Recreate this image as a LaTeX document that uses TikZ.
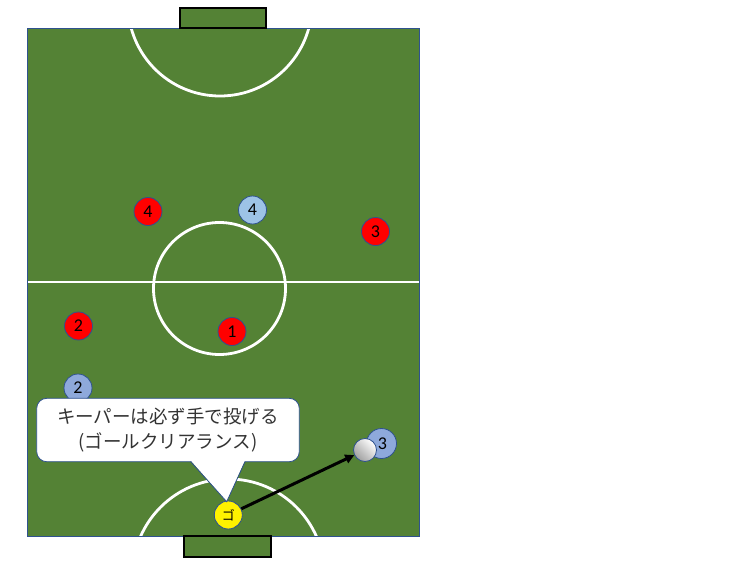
\documentclass[tikz,border=0pt]{standalone}
\usepackage{fontspec}
\setmainfont{Carlito}
\newfontfamily\jpfont{Noto Sans CJK JP}
\usetikzlibrary{arrows.meta}
\definecolor{pitch}{HTML}{548235}
\definecolor{edgeblue}{HTML}{2F528F}
\definecolor{bluea}{HTML}{8EA9DB}
\definecolor{blueb}{HTML}{9DC3E6}
\tikzset{
  player/.style={circle, draw=edgeblue, line width=0.8pt, minimum size=28pt, inner sep=0pt, font=\fontsize{18}{18}\selectfont},
  redp/.style={player, fill=red},
  bluep/.style={player, fill=bluea},
  lbluep/.style={player, fill=blueb},
  goalbox/.style={draw=black, line width=1.2pt, fill=pitch},
  whiteline/.style={draw=white, line width=2.8pt},
  callbox/.style={draw=edgeblue, line width=0.8pt, fill=white, rounded corners=10pt},
}
\begin{document}
\begin{tikzpicture}[x=1pt, y=-1pt]
\useasboundingbox (0,0) rectangle (753,565);
% field
\fill[pitch] (27,28) rectangle (419,536);
\begin{scope}
  \clip (27,28) rectangle (419,536);
  \draw[whiteline] (220,4) circle (92);
  \draw[whiteline] (228.5,575) circle (96);
\end{scope}
\draw[whiteline] (27,282) -- (419,282);
\draw[whiteline] (219.5,288.5) circle (66);
\draw[draw=edgeblue, line width=0.8pt] (27,28) rectangle (419,536);
% goals
\draw[goalbox] (180,8) rectangle (266,28);
\draw[goalbox] (184,536) rectangle (271,557);
% players
\node[redp] (r4) at (148,211.5) {4};
\node[lbluep] (b4) at (252.5,210) {4};
\node[redp] (r3) at (375.5,231.5) {3};
\node[redp] (r1) at (232,331.5) {1};
\node[redp] (r2) at (78.5,326) {2};
\node[bluep] (b2) at (78,388) {2};
\node[bluep, minimum size=30pt] (b3) at (381.5,443.5) {\hspace*{2pt}3};
\node[circle, draw=edgeblue, line width=0.8pt, minimum size=23pt, inner sep=0pt, shading=axis, left color=white, right color=gray!75, shading angle=-45] (ball) at (365,450) {};
\node[player, fill=yellow, font=\jpfont\fontsize{13}{13}\selectfont] (gk) at (228.3,515) {ゴ};
% pass
\draw[line width=3pt, -{Triangle[length=9pt, width=9pt]}] (gk) -- (ball);
% callout
\node[callbox, minimum width=262.6pt, minimum height=63.4pt, align=center, inner sep=0pt,
      font=\jpfont\fontsize{18.5}{25}\selectfont, text=black!80] (call) at (168,430) {キーパーは必ず手で投げる\\(ゴールクリアランス)};
\coordinate (tip) at (226.7,501.7);
\fill[white] (190.7,460.5) -- (tip) -- (245,460.5) -- cycle;
\draw[edgeblue, line width=0.8pt] (190.7,461.7) -- (tip) -- (245,461.7);
\end{tikzpicture}
\end{document}
